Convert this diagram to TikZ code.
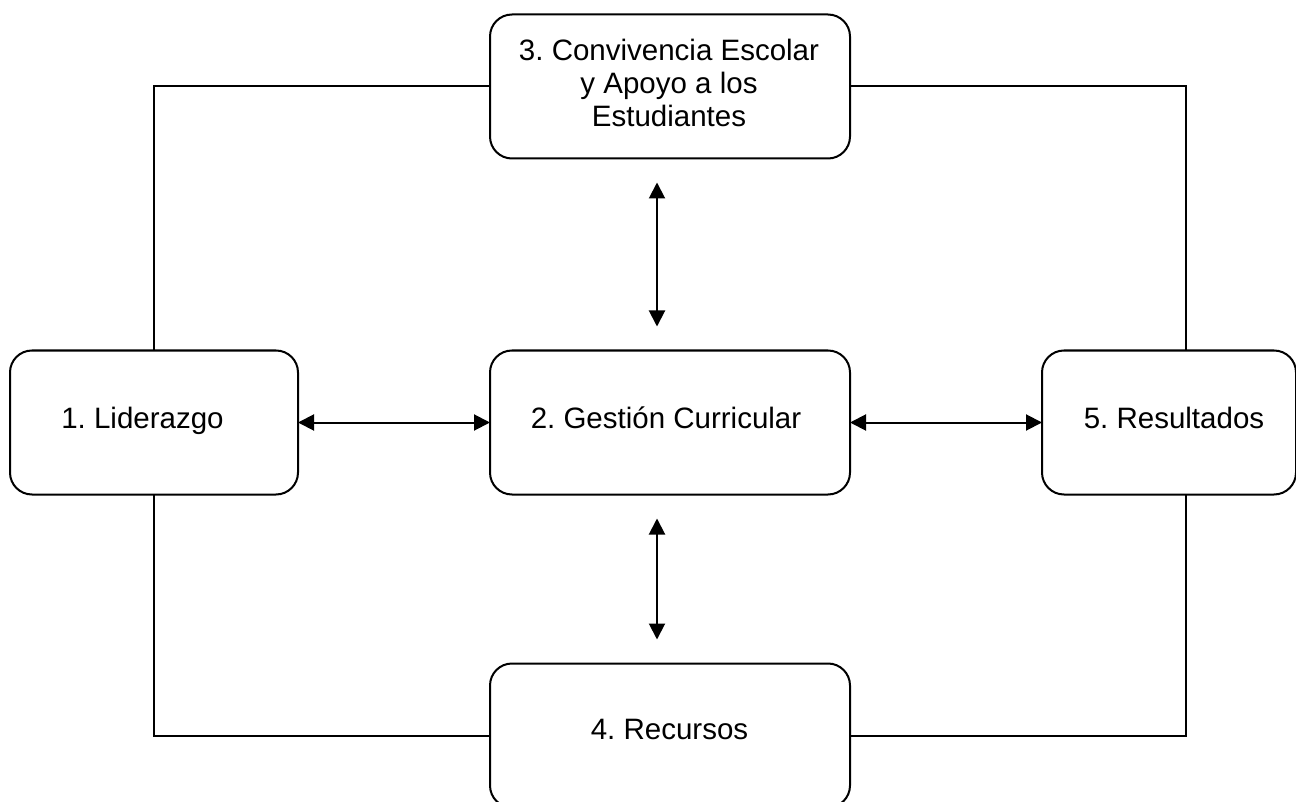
\documentclass[tikz,border=0pt]{standalone}
\usepackage{fontspec}
\setmainfont{Liberation Sans}
\usetikzlibrary{arrows.meta}
\frenchspacing
\begin{document}
\begin{tikzpicture}[x=1pt,y=-1pt,
  box/.style={draw,line width=2pt,rounded corners=22pt,minimum width=#1,minimum height=144pt,inner sep=0pt,outer sep=0pt},
  txt/.style={font=\fontsize{29.5}{33}\selectfont,align=center,inner sep=0pt,anchor=base},
  link/.style={line width=2pt},
  dbl/.style={line width=2pt,{Triangle[length=16pt,width=16pt]}-{Triangle[length=16pt,width=16pt]}}]
\useasboundingbox (0,0) rectangle (1296,802);
\clip (0,0) rectangle (1296,802);
\fill[white] (0,0) rectangle (1296,802);
\node[box=360pt] (b3) at (670,86.5) {};
\node[box=288pt] (b1) at (154,422.5) {};
\node[box=360pt] (b2) at (670,422.5) {};
\node[box=254pt] (b5) at (1169,422.5) {};
\node[box=360pt] (b4) at (670,735.5) {};
\node[txt,anchor=north] (t3) at (669,39) {3. Convivencia Escolar\\y Apoyo a los\\Estudiantes};
\node[txt] (t1) at (142.5,428) {1. Liderazgo};
\node[txt] (t2) at (666,428) {2. Gestión Curricular};
\node[txt] (t5) at (1174,428) {5. Resultados};
\node[txt] (t4) at (669.5,739) {4. Recursos};
\draw[link] (b3.west) -| (b1.north);
\draw[link] (b3.east) -| ([xshift=17pt]b5.north);
\draw[link] (b1.south) |- (b4.west);
\draw[link] ([xshift=17pt]b5.south) |- (b4.east);
\draw[dbl] ([xshift=-13pt,yshift=-24pt]b3.south) -- ([xshift=-13pt,yshift=24pt]b2.north);
\draw[dbl] ([xshift=-13pt,yshift=-24pt]b2.south) -- ([xshift=-13pt,yshift=24pt]b4.north);
\draw[dbl] (b1.east) -- (b2.west);
\draw[dbl] (b2.east) -- (b5.west);
\end{tikzpicture}
\end{document}
